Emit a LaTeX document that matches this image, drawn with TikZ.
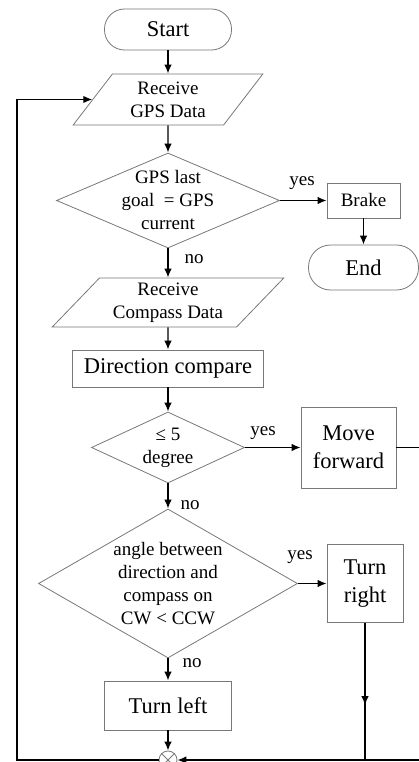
\documentclass[tikz,border=0pt]{standalone}
\usepackage{fontspec}
\setmainfont{Liberation Serif}
\usetikzlibrary{arrows.meta,shapes.geometric,decorations.markings,calc}
\definecolor{outl}{RGB}{120,120,120}
\begin{document}
\begin{tikzpicture}[x=1pt,y=-1pt,
  sm/.style={font=\fontsize{19}{23}\selectfont},
  bg/.style={font=\fontsize{22.5}{28}\selectfont},
  boxn/.style={draw=outl, line width=0.8pt, rectangle, inner sep=0pt, align=center},
  term/.style={boxn, bg},
  io/.style={draw=outl, line width=0.8pt, trapezium, trapezium stretches=true, inner sep=0pt, align=center, sm},
  dec/.style={draw=outl, line width=0.8pt, diamond, inner sep=-4pt, align=center, sm},
  lbl/.style={sm, inner sep=0pt},
  conn/.style={line width=1.4pt, -{Latex[length=9pt,width=7.5pt]}},
  plain/.style={line width=1.4pt},
  midarrow/.style={decoration={markings, mark=at position 0.6 with {\arrow{Latex[length=9pt,width=7.5pt]}}}, postaction={decorate}}
]
\useasboundingbox (0,0) rectangle (419,762);
\clip (0,0) rectangle (419,762);

% nodes
\node[term, rounded corners=20pt, minimum width=127pt, minimum height=41pt] (start) at (168,29.5) {Start};
\node[io, trapezium left angle=53.3, trapezium right angle=126.7, minimum width=190pt, minimum height=51pt] (gps) at (168,99.5) {Receive\\GPS Data};
\node[dec, aspect=2.347, minimum width=223pt, minimum height=95pt] (d1) at (168,200.5) {GPS last\\goal~ = GPS\\current};
\node[boxn, sm, minimum width=73pt, minimum height=35pt] (brake) at (363.5,200.5) {Brake};
\node[term, rounded corners=22pt, minimum width=110pt, minimum height=45pt] (end) at (363.5,267.5) {End};
\node[io, trapezium left angle=46.2, trapezium right angle=133.8, minimum width=232pt, minimum height=49pt] (comp) at (168,302.5) {Receive\\Compass Data};
\node[boxn, bg, minimum width=191pt, minimum height=37pt] (dircmp) at (168,368.5) {Direction compare};
\node[dec, aspect=2.155, minimum width=153pt, minimum height=71pt] (d2) at (168,447.5) {≤ 5\\degree};
\node[boxn, bg, minimum width=95pt, minimum height=81pt] (move) at (348.5,447.5) {Move\\forward};
\node[dec, aspect=1.738, minimum width=259pt, minimum height=149pt] (d3) at (168,583.5) {angle between\\direction and\\compass on\\CW < CCW};
\node[boxn, bg, minimum width=76pt, minimum height=78pt] (right) at (365,583.5) {Turn\\right};
\node[boxn, bg, minimum width=127pt, minimum height=49pt] (left) at (168,705.5) {Turn left};
\node[draw=outl, line width=0.8pt, circle, minimum size=18pt, inner sep=0pt] (j) at (168,760) {};
\draw[outl, line width=0.8pt] (j.north west) -- (j.south east) (j.north east) -- (j.south west);

% labels
\node[lbl] (yes1) at (302,183) {yes};
\node[lbl] (no1) at (194,259.5) {no};
\node[lbl] (yes2) at (263,433) {yes};
\node[lbl] (no2) at (190,505) {no};
\node[lbl] (yes3) at (300,557) {yes};
\node[lbl] (no3) at (192,663) {no};

\coordinate (rc) at (430,760);
\coordinate (lc) at (17,760);

% connectors
\draw[conn] (start) -- (gps);
\draw[conn] (gps) -- (d1);
\draw[conn] (d1) -- (brake);
\draw[conn] (brake) -- (end);
\draw[conn] (d1) -- (comp);
\draw[conn] (comp) -- (dircmp);
\draw[conn] (dircmp) -- (d2);
\draw[conn] (d2) -- (move);
\draw[conn] (d2) -- (d3);
\draw[conn] (d3) -- (right);
\draw[conn] (d3) -- (left);
\draw[conn] (left) -- (j);
\draw[conn] (move.east) -| (rc) -- (j.east);
\draw[plain, midarrow] (right.south) -- (right.south |- j.east);
\draw[conn] (j.west) -- (lc) |- (gps.left side);
\end{tikzpicture}
\end{document}
